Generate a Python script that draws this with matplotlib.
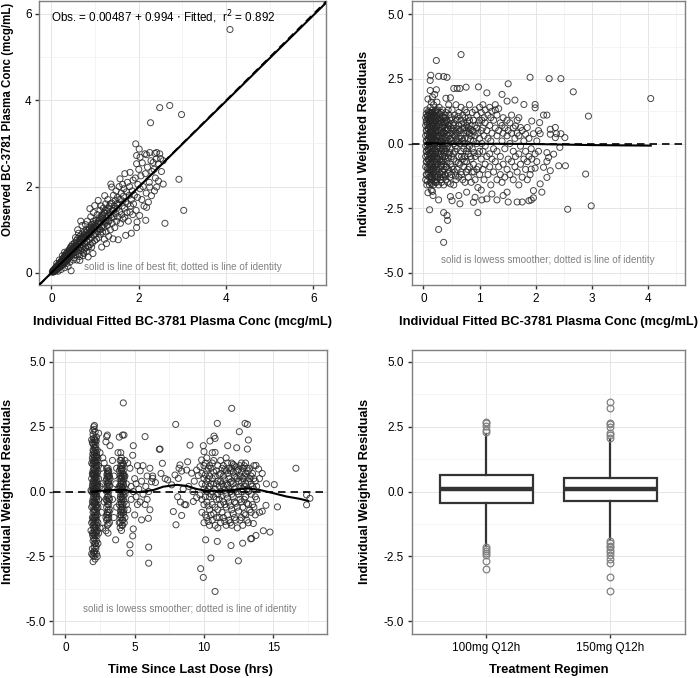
import matplotlib.pyplot as plt
import numpy as np

plt.rcParams['font.family'] = ['Liberation Sans', 'DejaVu Sans']

# ---- Panel A: observed vs individual fitted conc (mcg/mL), (fitted, observed) ----
obs_low = [
    (0.02, 0.02), (0.03, 0.05), (0.04, 0.02), (0.05, 0.07), (0.05, 0.03), (0.06, 0.05),
    (0.07, 0.09), (0.07, 0.04), (0.08, 0.06), (0.09, 0.12), (0.09, 0.08), (0.10, 0.05),
    (0.11, 0.10), (0.11, 0.14), (0.12, 0.08), (0.13, 0.12), (0.13, 0.17), (0.14, 0.10),
    (0.15, 0.15), (0.16, 0.19), (0.16, 0.12), (0.17, 0.16), (0.18, 0.22), (0.18, 0.13),
    (0.19, 0.18), (0.20, 0.24), (0.20, 0.15), (0.21, 0.20), (0.22, 0.27), (0.22, 0.16),
    (0.23, 0.22), (0.24, 0.30), (0.24, 0.18), (0.25, 0.25), (0.26, 0.33), (0.26, 0.20),
    (0.27, 0.27), (0.28, 0.36), (0.28, 0.21), (0.29, 0.30), (0.30, 0.24), (0.30, 0.39),
    (0.31, 0.31), (0.32, 0.27), (0.32, 0.42), (0.33, 0.34), (0.34, 0.28), (0.34, 0.45),
    (0.35, 0.36), (0.36, 0.30), (0.36, 0.48), (0.37, 0.38), (0.38, 0.32), (0.38, 0.50),
    (0.39, 0.41), (0.40, 0.35), (0.40, 0.53), (0.41, 0.44), (0.42, 0.37), (0.42, 0.56),
    (0.43, 0.46), (0.44, 0.39), (0.44, 0.60), (0.45, 0.49), (0.46, 0.41), (0.46, 0.62),
    (0.47, 0.51), (0.48, 0.44), (0.48, 0.66), (0.49, 0.54), (0.50, 0.46),
    (0.15, 0.04), (0.22, 0.08), (0.30, 0.12), (0.38, 0.15), (0.45, 0.05), (0.35, 0.22),
    (0.42, 0.25), (0.50, 0.30), (0.18, 0.30), (0.25, 0.40), (0.30, 0.48), (0.12, 0.22),
    (0.03, 0.03), (0.04, 0.04), (0.06, 0.07), (0.08, 0.08), (0.10, 0.10), (0.12, 0.12),
    (0.14, 0.14), (0.17, 0.18), (0.19, 0.21), (0.21, 0.23), (0.23, 0.25), (0.25, 0.28),
    (0.27, 0.30), (0.29, 0.33), (0.31, 0.34), (0.33, 0.38), (0.35, 0.40), (0.37, 0.42),
    (0.39, 0.45), (0.41, 0.47), (0.43, 0.49), (0.45, 0.52), (0.47, 0.55), (0.49, 0.57),
]
obs_mid = [
    (0.51, 0.58), (0.52, 0.48), (0.53, 0.70), (0.54, 0.55), (0.55, 0.42), (0.56, 0.62),
    (0.57, 0.75), (0.58, 0.50), (0.59, 0.60), (0.60, 0.80), (0.61, 0.55), (0.62, 0.66),
    (0.63, 0.45), (0.64, 0.72), (0.65, 0.85), (0.66, 0.60), (0.67, 1.20), (0.67, 0.70),
    (0.68, 0.52), (0.69, 0.78), (0.70, 0.90), (0.71, 0.64), (0.72, 0.75), (0.73, 0.48),
    (0.74, 0.82), (0.75, 0.95), (0.76, 0.68), (0.77, 0.80), (0.78, 0.58), (0.79, 0.88),
    (0.80, 1.00), (0.81, 0.72), (0.82, 0.85), (0.83, 0.62), (0.84, 0.37), (0.85, 0.92),
    (0.86, 1.05), (0.87, 0.77), (0.88, 1.49), (0.88, 0.90), (0.89, 0.66), (0.90, 0.98),
    (0.91, 1.12), (0.92, 0.82), (0.93, 0.95), (0.94, 0.70), (0.95, 0.45), (0.95, 1.05),
    (0.96, 1.20), (0.97, 0.88), (0.98, 1.00), (0.99, 1.56), (0.99, 0.75), (1.00, 1.10),
    (0.58, 0.30), (0.65, 0.29), (0.72, 0.40), (0.60, 1.00), (0.70, 1.10), (0.75, 0.55),
    (0.55, 0.82), (0.62, 0.92), (0.80, 0.50), (0.85, 0.60), (0.92, 0.60), (0.78, 1.12),
    (0.82, 1.20), (0.90, 1.30), (0.96, 1.40), (0.52, 0.35), (0.64, 0.38), (0.74, 0.45),
    (0.51, 0.62), (0.53, 0.58), (0.55, 0.65), (0.57, 0.62), (0.59, 0.70), (0.61, 0.66),
    (0.63, 0.75), (0.65, 0.70), (0.67, 0.80), (0.69, 0.72), (0.71, 0.84), (0.73, 0.78),
    (0.75, 0.88), (0.77, 0.83), (0.79, 0.93), (0.81, 0.86), (0.83, 0.98), (0.85, 0.88),
    (0.87, 1.02), (0.89, 0.95), (0.91, 1.05), (0.93, 1.00), (0.95, 1.12), (0.97, 1.05),
    (0.99, 1.15),
]
obs_high = [
    (1.01, 0.90), (1.02, 1.22), (1.03, 0.78), (1.04, 1.05), (1.05, 1.35), (1.06, 0.95),
    (1.07, 1.68), (1.07, 1.15), (1.08, 0.82), (1.09, 1.28), (1.10, 1.02), (1.11, 1.45),
    (1.12, 0.90), (1.13, 1.18), (1.14, 1.55), (1.15, 0.60), (1.15, 1.08), (1.16, 1.32),
    (1.17, 0.95), (1.18, 1.25), (1.19, 1.50), (1.20, 1.05), (1.21, 0.78), (1.22, 1.79),
    (1.22, 1.38), (1.23, 1.15), (1.24, 1.60), (1.25, 0.95), (1.26, 0.68), (1.26, 1.28),
    (1.27, 1.45), (1.28, 1.10), (1.29, 1.70), (1.30, 1.32), (1.31, 0.85), (1.32, 1.20),
    (1.33, 1.55), (1.34, 1.40), (1.35, 1.00), (1.36, 2.06), (1.37, 1.28), (1.38, 1.99),
    (1.38, 1.62), (1.39, 1.15), (1.40, 1.45), (1.41, 0.79), (1.42, 1.80), (1.43, 1.30),
    (1.44, 1.55), (1.45, 1.05), (1.46, 1.68), (1.47, 1.38), (1.48, 1.90), (1.49, 1.20),
    (1.50, 1.50), (1.51, 1.75), (1.52, 1.30), (1.53, 0.77), (1.54, 1.60), (1.55, 2.00),
    (1.56, 1.42), (1.57, 2.18), (1.58, 1.15), (1.59, 1.70), (1.60, 1.85), (1.61, 1.35),
    (1.62, 1.55), (1.63, 2.05), (1.64, 1.25), (1.65, 1.78), (1.66, 1.95), (1.67, 1.50),
    (1.68, 2.30), (1.68, 1.29), (1.70, 0.87), (1.70, 1.65), (1.72, 1.88), (1.73, 1.40),
    (1.74, 2.10), (1.75, 1.60), (1.76, 1.20), (1.78, 1.80), (1.79, 2.00), (1.80, 2.33),
    (1.80, 1.41), (1.81, 1.55), (1.83, 0.92), (1.83, 1.70), (1.85, 1.90), (1.86, 1.35),
    (1.87, 2.15), (1.88, 1.60), (1.90, 1.80), (1.92, 2.20), (1.94, 1.45), (1.95, 1.05),
    (1.95, 2.53), (1.96, 1.18), (1.97, 1.75), (1.98, 2.05), (2.00, 2.40), (2.02, 1.33),
    (2.03, 2.68), (2.03, 1.95), (1.95, 2.72), (2.18, 2.74), (2.37, 2.77), (2.40, 2.64),
    (1.02, 1.08), (1.05, 1.15), (1.08, 1.20), (1.11, 1.25), (1.14, 1.30), (1.17, 1.35),
    (1.20, 1.40), (1.23, 1.45), (1.30, 1.50), (1.35, 1.60), (1.12, 1.00), (1.18, 1.10),
    (1.24, 1.20), (1.30, 1.20), (1.36, 1.35), (1.42, 1.45), (1.50, 1.60), (1.55, 1.70),
]
obs_top = [
    (2.05, 2.25), (2.07, 1.70), (2.08, 2.55), (2.10, 2.00), (2.12, 1.55), (2.14, 2.76),
    (2.15, 2.30), (2.16, 1.22), (2.17, 1.85), (2.18, 1.52), (2.20, 2.45), (2.22, 1.64),
    (2.24, 2.10), (2.25, 2.79), (2.25, 1.99), (2.28, 2.60), (2.29, 1.79), (2.30, 2.35),
    (2.33, 2.56), (2.35, 2.40), (2.36, 1.90), (2.38, 2.20), (2.41, 2.79), (2.41, 1.99),
    (2.45, 2.53), (2.45, 2.13), (2.48, 2.76), (2.50, 2.65), (2.52, 2.35), (2.56, 2.06),
    (2.56, 2.60), (2.60, 1.15), (1.93, 2.99), (2.01, 2.87), (2.27, 3.48), (2.48, 3.83),
    (2.71, 3.88), (2.92, 2.17), (2.98, 3.67), (3.03, 1.45), (4.09, 5.64),
]
fit_intercept = 0.00487
fit_slope = 0.994
fit_r2 = 0.892

# ---- Panel B: IWRES vs individual fitted conc, columns (fitted, [iwres...]) ----
ipred_dense = [
    (0.04, [-1.4, -0.9, -0.5, -0.1, 0.3, 0.7, 1.0]),
    (0.05, [-1.2, -0.7, -0.3, 0.1, 0.5, 0.85, 1.15]),
    (0.06, [-1.6, -1.2, -0.7, -0.3, 0.1, 0.5, 0.9, 1.3]),
    (0.07, [-1.45, -0.95, -0.45, -0.05, 0.35, 0.75, 1.05]),
    (0.08, [-1.9, -1.0, -0.6, -0.2, 0.2, 0.6, 1.1, 1.72]),
    (0.09, [-1.15, -0.65, -0.25, 0.15, 0.55, 0.95, 1.25]),
    (0.10, [-1.3, -0.8, -0.4, 0.0, 0.4, 0.8, 1.2]),
    (0.105, [-1.6, -1.0, -0.6, -0.15, 0.25, 0.65, 1.1]),
    (0.11, [-2.56, -1.1, -0.2, 0.3, 0.9]),
    (0.12, [-1.5, -0.9, -0.5, -0.1, 0.2, 0.6, 1.0, 1.4, 2.05, 2.44]),
    (0.125, [-1.3, -0.75, -0.35, 0.05, 0.45, 0.85, 1.2]),
    (0.13, [-1.25, -0.7, 0.1, 0.5, 0.95, 2.64]),
    (0.14, [-1.8, -1.0, -0.4, 0.0, 0.4, 0.8, 1.2, 1.6]),
    (0.145, [-1.55, -1.05, -0.55, -0.1, 0.3, 0.7, 1.05]),
    (0.15, [-1.4, -0.6, 0.2, 0.7, 1.1]),
    (0.16, [-1.85, -1.2, -0.8, -0.3, 0.1, 0.5, 0.9, 1.3, 1.8]),
    (0.165, [-1.35, -0.9, -0.4, 0.0, 0.4, 0.8, 1.2]),
    (0.17, [-2.01, -1.0, -0.5, 0.3, 0.7, 1.15]),
    (0.18, [-1.6, -1.1, -0.7, -0.2, 0.2, 0.6, 1.0, 1.5]),
    (0.19, [-1.45, -0.95, -0.5, -0.05, 0.35, 0.75, 1.1]),
    (0.20, [-1.3, -0.9, -0.4, 0.0, 0.4, 0.8, 1.2, 1.9]),
    (0.21, [-1.5, -0.6, 0.1, 0.6, 1.05]),
    (0.215, [-1.25, -0.8, -0.35, 0.05, 0.45, 0.85, 1.25]),
    (0.22, [-1.1, -0.7, -0.3, 0.1, 0.5, 0.9, 1.3]),
    (0.23, [-0.5, 0.3, 2.08, 3.21]),
    (0.235, [-1.5, -1.0, -0.6, -0.1, 0.25, 0.65, 1.0]),
    (0.24, [-1.4, -0.9, -0.2, 0.2, 0.7, 1.1, 1.6]),
    (0.25, [-1.3, -0.8, -0.35, 0.1, 0.5, 0.95, 1.3]),
    (0.26, [-1.2, -0.6, -0.1, 0.3, 0.8, 1.2]),
    (0.27, [-3.32, -2.18, -1.6, 2.60]),
    (0.28, [-1.0, -0.4, 0.0, 0.5, 0.9, 1.4]),
    (0.29, [-1.15, -0.6, -0.15, 0.3, 0.75, 1.15]),
    (0.30, [-1.3, -0.7, -0.2, 0.2, 0.6, 1.0]),
    (0.31, [-1.4, -0.85, -0.4, 0.05, 0.5, 0.9]),
    (0.32, [-1.5, -0.9, -0.3, 0.1, 0.4, 0.8, 1.2]),
    (0.33, [-1.2, -0.7, -0.25, 0.2, 0.6, 1.05]),
    (0.34, [-1.1, -0.5, 0.0, 0.3, 0.7, 1.3]),
    (0.35, [-1.3, -0.65, -0.1, 0.45, 0.85]),
    (0.36, [-3.82, -2.67, -1.6, -0.8, -0.2, 0.4, 1.0, 2.59]),
    (0.37, [-1.0, -0.35, 0.25, 0.75]),
    (0.38, [-1.2, -0.5, 0.1, 0.6, 1.1]),
    (0.39, [-1.25, -0.6, 0.0, 0.5, 1.0]),
    (0.40, [-1.4, -0.9, -0.3, 0.2, 0.8, 1.2, 1.75]),
    (0.41, [-0.9, -0.2, 0.35, 0.85]),
    (0.42, [-2.78, -0.7, 0.0, 0.5, 0.9, 2.56]),
    (0.43, [-2.97, -1.5, -0.1, 0.6]),
    (0.44, [-1.15, -0.55, 0.1, 0.55, 1.3]),
    (0.45, [-1.0, -0.4, 0.3, 0.7, 1.1, 1.5]),
    (0.47, [-1.3, -0.35, 0.2, 0.75]),
    (0.48, [-2.05, -1.56, -0.8, -0.2, 0.4, 0.9, 1.77]),
    (0.50, [-1.2, -0.5, 0.1, 0.6, 1.0]),
    (0.51, [-2.21, -0.9, 0.2, 1.3]),
    (0.53, [-1.0, -0.4, 0.35, 0.7]),
    (0.54, [-1.6, -0.6, 0.0, 0.5, 0.8, 2.13]),
    (0.56, [-1.1, -0.3, 0.3, 1.1]),
    (0.57, [-1.25, -0.1, 0.45, 0.95]),
    (0.58, [-1.4, -0.7, 0.1, 0.6, 1.5]),
    (0.60, [-1.0, -0.2, 0.4, 0.9, 2.13]),
    (0.62, [-0.75, 0.05, 0.55, 1.05]),
    (0.63, [-2.01, -1.3, -0.5, 0.2, 0.7, 1.2]),
    (0.65, [-2.33, -0.8, 0.0, 0.5, 2.13]),
    (0.67, [-1.1, -0.3, 0.3, 0.9, 1.4, 3.44]),
    (0.68, [-1.2, -0.5, 0.2, 0.75]),
    (0.70, [-1.4, -0.6, 0.1, 0.6, 1.1]),
    (0.72, [-0.9, -0.2, 0.4, 0.8]),
    (0.73, [-0.7, 0.0, 0.6]),
    (0.74, [-1.5, -0.5, 0.2, 1.0, 1.3]),
    (0.76, [-1.1, -0.3, 0.5, 2.18]),
    (0.77, [-1.88, -0.7, 0.7, 1.2]),
    (0.79, [-1.0, -0.2, 0.45, 0.85]),
    (0.80, [-1.3, -0.4, 0.2, 0.6, 1.0]),
    (0.82, [-0.9, -0.1, 0.4, 0.9, 1.5]),
    (0.84, [-0.5, 0.15, 0.55]),
    (0.85, [-1.5, -0.6, 0.3, 0.7]),
    (0.87, [-1.1, -0.2, 0.5, 1.2]),
    (0.89, [-2.27, -0.8, 0.1, 0.9]),
    (0.90, [-1.1, -0.35, 0.45]),
    (0.92, [-2.08, -1.4, -0.5, 0.3, 0.7, 1.3]),
    (0.95, [-1.0, 0.0, 0.6, 1.1]),
    (0.97, [-2.67, -1.7, -0.4, 0.4]),
    (0.98, [-0.9, 0.8, 2.19]),
    (1.00, [-1.2, -0.3, 0.2, 0.9, 1.4]),
]
ipred_spread = [
    (1.03, [-1.8, -0.6, 0.5, 1.2]), (1.04, [-2.18, 0.0, 0.9]),
    (1.06, [-1.0, -0.3, 0.6, 1.5]), (1.08, [-1.4, 0.3, 1.0]),
    (1.10, [-0.8, -0.1, 0.8, 1.3]), (1.13, [-2.14, -0.5, 0.5, 1.96]),
    (1.15, [-1.2, 0.2, 1.1]), (1.18, [-0.9, -0.4, 0.7, 1.4]),
    (1.20, [-1.6, 0.1, 1.0]), (1.22, [-1.95, -0.6, 0.4, 1.25]),
    (1.25, [-1.1, -0.2, 0.9]), (1.28, [-0.7, 0.6, 1.3, 1.5]),
    (1.31, [-2.18, -1.4, -0.3, 0.3, 1.1]), (1.34, [-0.9, 0.5, 1.35]),
    (1.37, [-1.2, -0.5, 0.8]), (1.40, [-1.5, 0.1, 0.7, 1.90]),
    (1.42, [-2.01, -0.8, 0.4, 1.0]), (1.45, [-1.3, -0.2, 0.6]),
    (1.49, [-1.88, -1.0, 0.3, 0.9, 1.64]), (1.51, [-2.26, -0.6, 0.5, 2.31]),
    (1.54, [-1.2, 0.0, 0.8]), (1.57, [-0.7, 0.4, 1.1]),
    (1.60, [-1.4, -0.3, 0.6]), (1.63, [-0.9, 0.2, 1.68]),
    (1.64, [-0.5, 0.68]), (1.67, [-2.26, -1.1, 0.4, 0.9]),
    (1.70, [-1.6, -0.4, 0.3, 1.0]), (1.73, [-0.8, -0.1, 0.62]),
    (1.76, [-2.26, -1.3, 0.5]), (1.79, [-0.6, 0.1, 1.51]),
    (1.82, [-1.0, -0.3, 0.36]), (1.85, [-1.4, -0.7, 0.62]),
    (1.88, [-2.21, -0.5, 0.2]), (1.90, [-1.2, 2.56]),
    (1.92, [-2.18, -0.99, -0.2]), (1.93, [-0.6, 0.87]),
    (1.96, [-2.10, -1.82, 0.38]), (1.99, [-0.95, -0.4, 1.38, 1.51]),
    (2.02, [-0.7, 0.1]), (2.05, [-0.3, 0.5]), (2.07, [0.81]),
    (2.08, [-1.56, 0.38]), (2.11, [-1.88]), (2.14, [-0.92, 1.10]),
    (2.20, [-1.31, -0.69, -0.35, 1.10]), (2.23, [-0.54]), (2.24, [2.51]),
    (2.26, [-1.05, 0.36, 0.55]), (2.32, [-0.41]), (2.35, [0.23, 0.62]),
    (2.37, [0.38]), (2.41, [-0.86]), (2.43, [-0.15]), (2.45, [0.38, 2.51]),
    (2.52, [0.23]), (2.53, [-0.86]), (2.57, [-2.54]), (2.67, [2.00]),
    (2.89, [-1.18]), (2.94, [1.06]), (2.99, [-2.41]), (4.05, [1.74]),
]
ipred_smooth_x = [0.05, 0.5, 1.0, 1.5, 2.0, 2.5, 3.0, 3.5, 4.05]
ipred_smooth_y = [0.02, 0.0, -0.01, -0.01, -0.02, -0.04, -0.06, -0.07, -0.08]

# ---- Panel C: IWRES vs time since last dose (hrs), columns (time, [iwres...]) ----
tad_early = [
    (1.85, [-1.5, 0.05]),
    (1.90, [-2.4, -1.2, -0.6, 0.0, 0.5, 1.1, 2.0]),
    (1.95, [-2.2, -1.6, -1.0, -0.4, 0.2, 0.7, 1.3, 1.9]),
    (1.98, [-2.45, -1.7, -1.15, -0.55, -0.05, 0.3, 0.65, 1.05, 1.45, 1.85, 2.35]),
    (2.00, [-2.7, -1.9, -1.3, -0.8, -0.3, 0.1, 0.4, 0.8, 1.2, 1.6, 2.2]),
    (2.03, [-2.35, -1.6, -1.0, -0.45, 0.0, 0.35, 0.7, 1.1, 1.55, 2.05]),
    (2.05, [-2.5, -1.8, -1.4, -1.1, -0.7, -0.2, 0.2, 0.6, 0.9, 1.4, 1.8, 2.5]),
    (2.08, [-2.15, -1.65, -1.25, -0.8, -0.35, 0.05, 0.45, 0.85, 1.3, 1.7, 2.4]),
    (2.10, [-2.3, -2.0, -1.5, -1.0, -0.5, -0.1, 0.3, 0.7, 1.1, 1.5, 2.0, 2.55]),
    (2.13, [-2.4, -1.85, -1.35, -0.7, -0.25, 0.15, 0.55, 1.0, 1.35, 1.9]),
    (2.15, [-2.6, -1.7, -1.2, -0.9, -0.4, 0.0, 0.5, 0.8, 1.2, 1.7, 2.3]),
    (2.18, [-2.0, -1.4, -0.95, -0.45, -0.05, 0.35, 0.75, 1.15, 1.6, 2.0]),
    (2.20, [-2.2, -1.6, -1.1, -0.6, -0.2, 0.2, 0.6, 1.0, 1.3, 1.8]),
    (2.23, [-2.1, -1.55, -1.0, -0.55, -0.1, 0.25, 0.65, 1.1, 1.5, 1.95]),
    (2.25, [-2.4, -1.9, -1.3, -0.8, -0.3, 0.1, 0.4, 0.9, 1.4, 2.1]),
    (2.28, [-1.7, -1.15, -0.65, -0.2, 0.2, 0.55, 1.0, 1.35]),
    (2.30, [-2.5, -1.5, -0.9, -0.5, 0.0, 0.3, 0.7, 1.2, 1.6]),
    (2.35, [-2.0, -1.2, -0.6, 0.2, 0.8, 1.3]),
    (2.40, [-1.6, -0.3, 0.5, 1.0, 2.25]),
    (2.50, [-1.4, 0.2, 1.5]), (2.60, [-0.8, 0.9]),
    (2.70, [-1.41, 0.3, 1.3]), (2.80, [-0.4, 1.1]),
    (2.93, [-1.51, -1.0, -0.3, 0.4, 1.92]),
    (2.98, [-1.1, -0.6, 0.0, 0.5, 0.9, 2.12]),
    (3.00, [-0.9, -0.35, 0.2, 0.65]),
    (3.03, [-1.3, -0.8, -0.2, 0.3, 0.7, 2.18]),
    (3.05, [-1.05, -0.5, 0.05, 0.55, 0.8]),
    (3.08, [-1.6, -0.9, -0.4, 0.1, 0.6, 0.9]),
    (3.10, [-1.25, -0.7, -0.15, 0.35, 0.75]),
    (3.13, [-1.0, -0.5, 0.0, 0.4, 0.8]),
    (3.15, [-0.8, -0.25, 0.25, 0.6]),
    (3.18, [-1.2, -0.3, 0.2, 0.6]),
    (3.22, [-0.7, 0.5, 1.77]),
    (3.40, [-0.3, 1.2]), (3.50, [-1.0, 0.6]), (3.63, [-1.86, 0.3]),
    (3.70, [-0.6, 0.9]), (3.80, [0.1, 1.5]),
    (3.89, [-1.2, -0.5, 0.2, 0.8, 2.10]),
    (3.95, [-1.4, -0.9, -0.3, 0.1, 0.5, 1.2]),
    (3.98, [-1.2, -0.75, -0.2, 0.2, 0.6, 0.9]),
    (4.00, [-1.0, -0.6, -0.1, 0.3, 0.7, 1.0, 1.5]),
    (4.03, [-0.9, -0.45, 0.05, 0.5, 0.85, 1.2]),
    (4.05, [-1.5, -0.8, -0.4, 0.0, 0.4, 0.8, 1.3]),
    (4.08, [-1.3, -0.7, -0.3, 0.15, 0.55, 1.0]),
    (4.10, [-1.1, -0.6, -0.2, 0.2, 0.6, 0.9]),
    (4.13, [-1.3, 0.1, 1.1, 2.18]),
    (4.15, [-1.1, -0.5, -0.05, 0.35, 0.7]),
    (4.18, [-0.9, -0.3, 0.4, 0.8, 3.42]),
    (4.20, [-0.8, -0.15, 0.25, 0.65, 1.05]),
    (4.23, [-0.7, 0.0, 0.5, 2.18]),
    (4.25, [-1.2, -0.4, 0.15, 0.6]),
    (4.30, [-1.0, -0.1, 0.6, 1.2]),
    (4.40, [-0.5, 0.3]),
]
tad_middle = [
    (4.50, [-0.7, 1.1]), (4.66, [-2.37, -2.05, 0.9]), (4.75, [-0.3, 0.2]),
    (4.86, [-1.71, 1.4]), (4.90, [-1.44, 0.0, 1.77]), (5.00, [-0.9, 0.5]),
    (5.10, [-0.2, 0.3]), (5.20, [-0.5, 1.0]), (5.30, [0.1]), (5.40, [-0.4, 0.8]),
    (5.50, [-1.09, 0.4]), (5.60, [-0.1, 1.0]), (5.75, [-0.5, 2.12]), (5.80, [0.2]),
    (5.90, [-0.3, 0.6]), (5.99, [-1.03]), (6.01, [-2.76, -2.14, 0.0]),
    (6.10, [-0.7, 0.9]), (6.22, [0.38]), (6.30, [0.51, 0.6]), (6.50, [0.35]),
    (6.78, [1.63]), (6.83, [1.64]), (6.90, [0.7]), (7.00, [1.09]), (7.20, [0.5]),
    (7.38, [0.45]), (7.67, [0.26]), (7.79, [-0.77]), (7.91, [0.64]),
    (7.96, [2.59]), (7.98, [-1.28]), (8.10, [-0.2]), (8.15, [0.51]), (8.20, [0.9]),
    (8.27, [1.03]), (8.30, [-0.4]), (8.39, [-0.92, 0.79]), (8.50, [0.1]),
    (8.60, [-0.5]), (8.70, [-0.51]), (8.75, [0.83]), (8.82, [1.15]), (8.90, [0.2]),
    (8.99, [1.79]), (9.11, [0.71]), (9.20, [0.0]), (9.23, [-0.38]), (9.30, [0.4]),
    (9.47, [-0.23, 0.83]), (9.59, [0.62]), (9.71, [-0.13, 0.96]), (9.76, [-2.97]),
    (9.83, [1.22]), (9.95, [-3.31, 1.77]), (10.0, [1.54]), (10.12, [-1.86]),
]
tad_late = [
    (9.85, [-0.8, -0.3, 0.3, 0.7]),
    (10.0, [-1.2, -0.5, 0.1, 0.5, 1.0]),
    (10.1, [-0.9, -0.2, 0.25, 0.65, 1.1]),
    (10.2, [-1.0, -0.4, 0.0, 0.4, 0.8, 1.3]),
    (10.3, [-1.15, -0.55, 0.1, 0.5, 0.9]),
    (10.4, [-1.3, -0.7, -0.2, 0.2, 0.6, 1.0]),
    (10.43, [1.95]),
    (10.5, [-2.56, -0.9, -0.1, 0.3, 0.9]),
    (10.6, [-1.1, -0.5, 0.0, 0.5, 1.1, 1.5]),
    (10.7, [-0.85, -0.2, 0.3, 0.75, 1.2]),
    (10.72, [2.14]),
    (10.8, [-3.85, -1.3, -0.6, 0.1, 0.6, 1.51, 2.05]),
    (10.9, [-1.0, -0.3, 0.3, 0.8]),
    (10.96, [-1.92, 2.63]),
    (11.0, [-1.4, -0.7, -0.1, 0.4, 1.0]),
    (11.1, [-1.0, -0.3, 0.2, 0.65]),
    (11.2, [-1.2, -0.5, 0.0, 0.4, 0.7, 1.2]),
    (11.3, [-0.8, -0.15, 0.3, 0.9]),
    (11.4, [-1.0, -0.4, 0.2, 0.6, 1.0]),
    (11.5, [-1.15, -0.5, 0.05, 0.45, 0.85]),
    (11.6, [-1.3, -0.6, -0.1, 0.3, 0.8, 1.3]),
    (11.7, [-0.9, -0.25, 0.25, 0.7, 1.1]),
    (11.71, [1.77]),
    (11.8, [-1.1, -0.4, 0.1, 0.5, 0.9]),
    (11.9, [-1.2, -0.55, 0.0, 0.35, 0.8]),
    (11.95, [-2.08]),
    (12.0, [-1.3, -0.7, -0.1, 0.4, 0.9, 1.1, 3.21]),
    (12.1, [-0.85, -0.2, 0.3, 0.75, 1.05]),
    (12.2, [-1.0, -0.4, 0.1, 0.6, 1.0]),
    (12.3, [-1.1, -0.45, 0.15, 0.55, 0.95]),
    (12.36, [1.69]),
    (12.4, [-1.4, -0.6, 0.0, 0.5, 0.8]),
    (12.48, [-2.67]), (12.55, [2.31]),
    (12.5, [-0.75, -0.1, 0.4, 0.85]),
    (12.6, [-1.1, -0.3, 0.2, 0.6, 1.0]),
    (12.7, [-1.0, -0.4, 0.0, 0.35, 0.75, 1.1]),
    (12.79, [-1.99]),
    (12.8, [-1.3, -0.6, 0.1, 0.5, 0.9]),
    (12.9, [-0.85, -0.3, 0.2, 0.6, 1.0]),
    (12.96, [2.63]),
    (13.0, [-0.9, -0.2, 0.3, 0.7, 1.1]),
    (13.1, [-1.1, -0.45, 0.1, 0.55, 0.9]),
    (13.13, [1.64, 2.59]),
    (13.2, [-1.2, -0.5, 0.0, 0.4, 0.8, 1.99]),
    (13.3, [-0.7, 0.05, 0.5, 0.9]),
    (13.37, [-1.82]), (13.44, [-1.81]),
    (13.4, [-0.8, -0.1, 0.3, 0.6]),
    (13.5, [-0.5, 0.2, 0.7]),
    (13.56, [-1.23]),
    (13.6, [-0.6, 0.1, 0.5, 1.0]),
    (13.7, [-0.9, -0.2, 0.4]),
    (13.75, [-1.69, 1.01]), (13.8, [-0.3, 0.2]), (13.94, [0.87]),
    (14.0, [-0.8, 0.5]), (14.2, [-0.76, 0.7]), (14.28, [-1.51]),
    (14.47, [-0.53]), (14.5, [0.3]), (14.76, [-1.56]),
    (15.07, [0.27]), (15.3, [-0.59]), (16.63, [0.90]),
    (17.4, [-0.51, -0.13]), (17.64, [-0.26]),
]
tad_smooth_x = [1.9, 2.5, 3.46, 4.4, 5.1, 5.6, 6.35, 7.07, 8.03, 8.75, 9.47,
                10.19, 11.15, 12.1, 13.08, 14.04, 15.0, 15.96, 16.92, 17.52]
tad_smooth_y = [0.0, 0.03, 0.06, 0.06, -0.03, 0.0, 0.06, 0.19, 0.26, 0.22, 0.10,
                0.03, 0.03, 0.06, 0.13, 0.06, -0.06, -0.19, -0.28, -0.36]

# ---- Panel D: IWRES by treatment regimen (box summaries) ----
regimens = ['100mg Q12h', '150mg Q12h']
box_q1 = [-0.45, -0.38]
box_median = [0.09, 0.09]
box_q3 = [0.63, 0.54]
box_whislo = [-2.10, -1.84]
box_whishi = [2.22, 2.03]
box_fliers = [
    [2.30, 2.36, 2.54, 2.63, 2.67, -2.15, -2.22, -2.30, -2.38, -2.44, -2.69, -2.97],
    [2.07, 2.18, 2.24, 2.50, 2.59, 2.63, 3.21, 3.44, -1.90, -1.99, -2.08, -2.15,
     -2.24, -2.33, -2.44, -2.59, -2.76, -3.31, -3.85],
]

resid_ticks = [-5, -2.5, 0, 2.5, 5]
resid_labels = ['-5.0', '-2.5', '0.0', '2.5', '5.0']
resid_minor = [-3.75, -1.25, 1.25, 3.75]


def unpack(cols):
    xs, ys = [], []
    for x, vals in cols:
        for v in vals:
            xs.append(x)
            ys.append(v)
    return np.array(xs), np.array(ys)


def style_axes(ax, xlabel, ylabel, ylab_x, xlab_y, ylab_size=9.3, ylab_y=0.5):
    ax.set_axisbelow(True)
    ax.grid(which='major', color='#e5e5e5', lw=0.7)
    ax.grid(which='minor', color='#f2f2f2', lw=0.6)
    for sp in ax.spines.values():
        sp.set_color('#7f7f7f')
        sp.set_linewidth(1.0)
    ax.tick_params(which='major', length=3, width=1, color='#333333',
                   labelsize=8.5, pad=2.5, labelcolor='black')
    ax.tick_params(which='minor', length=0)
    ax.set_xlabel(xlabel, fontsize=9.3, fontweight='bold')
    ax.set_ylabel(ylabel, fontsize=ylab_size, fontweight='bold')
    ax.xaxis.label.set_va('center')
    ax.yaxis.label.set_va('center')
    ax.yaxis.set_label_coords(ylab_x, ylab_y)
    ax.xaxis.set_label_coords(0.5, xlab_y)


def scatter(ax, x, y):
    ax.scatter(x, y, s=19, facecolors='none', edgecolors='#262626',
               linewidths=0.7, alpha=0.85, zorder=2)


fig = plt.figure(figsize=(7, 6.78), dpi=100)
ax1 = fig.add_axes([0.0561, 0.5796, 0.4096, 0.4189])
ax2 = fig.add_axes([0.5881, 0.5796, 0.3904, 0.4189])
ax3 = fig.add_axes([0.0761, 0.0649, 0.3906, 0.4193])
ax4 = fig.add_axes([0.5881, 0.0649, 0.3904, 0.4193])

# Panel A
pts = np.array(obs_low + obs_mid + obs_high + obs_top)
scatter(ax1, pts[:, 0], pts[:, 1])
ax1.set_xlim(-0.28, 6.29)
ax1.set_ylim(-0.28, 6.30)
line_x = np.array(ax1.get_xlim())
ax1.plot(line_x, fit_intercept + fit_slope * line_x, color='black', lw=1.5, zorder=3)
ax1.plot(line_x, line_x, color='black', lw=1.2, ls=(0, (4.5, 3)), zorder=3)
ax1.set_xticks([0, 2, 4, 6])
ax1.set_yticks([0, 2, 4, 6])
ax1.set_xticks([1, 3, 5], minor=True)
ax1.set_yticks([1, 3, 5], minor=True)
ax1.text(0.0, 5.93, r'Obs. = %.5f + %.3f $\cdot$ Fitted,  r$^2$ = %.3f'
         % (fit_intercept, fit_slope, fit_r2), fontsize=8.4, ha='left', va='center')
ax1.text(3.0, 0.14, 'solid is line of best fit; dotted is line of identity',
         fontsize=7.1, color='#808080', ha='center', va='center')
style_axes(ax1, 'Individual Fitted BC-3781 Plasma Conc (mcg/mL)',
           'Observed BC-3781 Plasma Conc (mcg/mL)', -0.11, -0.13,
           ylab_size=8.3, ylab_y=0.585)

# Panel B
bx1, by1 = unpack(ipred_dense)
bx2, by2 = unpack(ipred_spread)
scatter(ax2, np.concatenate([bx1, bx2]), np.concatenate([by1, by2]))
ax2.axhline(0, color='black', lw=1.2, ls=(0, (4.5, 3)), zorder=3)
ax2.plot(ipred_smooth_x, ipred_smooth_y, color='black', lw=1.5, zorder=3)
ax2.set_xlim(-0.21, 4.66)
ax2.set_ylim(-5.47, 5.51)
ax2.set_xticks([0, 1, 2, 3, 4])
ax2.set_xticks([0.5, 1.5, 2.5, 3.5, 4.5], minor=True)
ax2.set_yticks(resid_ticks)
ax2.set_yticklabels(resid_labels)
ax2.set_yticks(resid_minor, minor=True)
ax2.text(2.22, -4.51, 'solid is lowess smoother; dotted is line of identity',
         fontsize=7.1, color='#808080', ha='center', va='center')
style_axes(ax2, 'Individual Fitted BC-3781 Plasma Conc (mcg/mL)',
           'Individual Weighted Residuals', -0.175, -0.13)

# Panel C
cx, cy = [], []
for cols in (tad_early, tad_middle, tad_late):
    x, y = unpack(cols)
    cx.append(x)
    cy.append(y)
scatter(ax3, np.concatenate(cx), np.concatenate(cy))
ax3.axhline(0, color='black', lw=1.2, ls=(0, (4.5, 3)), zorder=3)
ax3.plot(tad_smooth_x, tad_smooth_y, color='black', lw=1.5, zorder=3)
ax3.set_xlim(-0.87, 18.85)
ax3.set_ylim(-5.49, 5.47)
ax3.set_xticks([0, 5, 10, 15])
ax3.set_xticks([2.5, 7.5, 12.5, 17.5], minor=True)
ax3.set_yticks(resid_ticks)
ax3.set_yticklabels(resid_labels)
ax3.set_yticks(resid_minor, minor=True)
ax3.text(8.97, -4.51, 'solid is lowess smoother; dotted is line of identity',
         fontsize=7.1, color='#808080', ha='center', va='center')
style_axes(ax3, 'Time Since Last Dose (hrs)', 'Individual Weighted Residuals',
           -0.165, -0.127)

# Panel D
stats = []
for i, name in enumerate(regimens):
    stats.append(dict(label=name, q1=box_q1[i], med=box_median[i], q3=box_q3[i],
                      whislo=box_whislo[i], whishi=box_whishi[i],
                      fliers=box_fliers[i]))
ax4.bxp(stats, positions=[1, 2], widths=0.75, showcaps=False, patch_artist=True,
        boxprops=dict(facecolor='white', edgecolor='#333333', lw=1.6),
        medianprops=dict(color='#333333', lw=3.2),
        whiskerprops=dict(color='#333333', lw=1.6),
        flierprops=dict(marker='o', markerfacecolor='none', markeredgecolor='#808080',
                        markersize=4.8, markeredgewidth=0.9))
ax4.set_xlim(0.4, 2.6)
ax4.set_ylim(-5.49, 5.47)
ax4.set_xticks([1, 2])
ax4.set_xticklabels(regimens)
ax4.set_yticks(resid_ticks)
ax4.set_yticklabels(resid_labels)
ax4.set_yticks(resid_minor, minor=True)
style_axes(ax4, 'Treatment Regimen', 'Individual Weighted Residuals', -0.171, -0.127)

fig.savefig('out.png', dpi=100)
